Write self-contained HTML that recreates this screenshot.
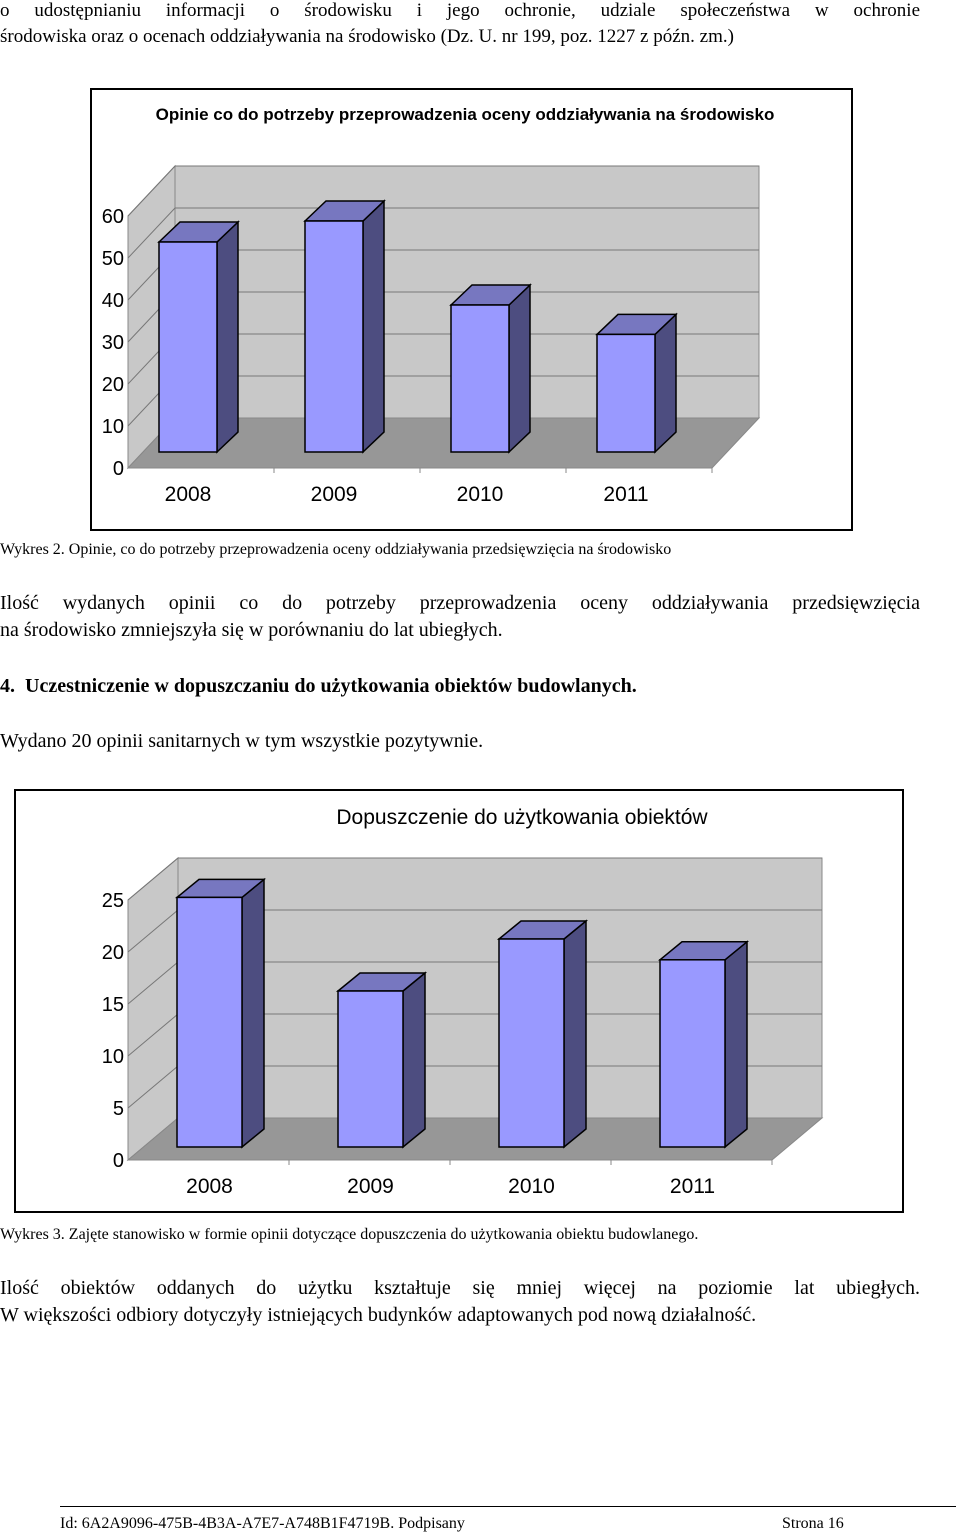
<!DOCTYPE html>
<html><head><meta charset="utf-8"><style>
body{margin:0;width:960px;height:1538px;position:relative;background:#fff;font-family:"Liberation Serif",serif;color:#000;overflow:hidden}
.t{position:absolute;white-space:nowrap}
.j{position:absolute;left:2px;width:918px;text-align:justify;text-align-last:justify;white-space:nowrap}
svg text{font-family:"Liberation Sans",sans-serif}
</style></head><body>
<div class="j" style="top:0;font-size:19px;left:0;width:920px">o udostępnianiu informacji o środowisku i jego ochronie, udziale społeczeństwa w ochronie</div>
<div class="t" style="top:26px;left:0;font-size:19px">środowiska oraz o ocenach oddziaływania na środowisko (Dz. U. nr 199, poz. 1227 z późn. zm.)</div>

<svg id="c1" style="position:absolute;left:0;top:0" width="960" height="540"></svg>
<div class="t" style="top:541px;left:0;font-size:16px">Wykres 2. Opinie, co do potrzeby przeprowadzenia oceny oddziaływania przedsięwzięcia na środowisko</div>
<div class="j" style="top:592px;font-size:20px;left:0;width:920px">Ilość wydanych opinii co do potrzeby przeprowadzenia oceny oddziaływania przedsięwzięcia</div>
<div class="t" style="top:619px;left:0;font-size:20px">na środowisko zmniejszyła się w porównaniu do lat ubiegłych.</div>
<div class="t" style="top:675px;left:0;font-size:20px;font-weight:bold">4. &nbsp;Uczestniczenie w dopuszczaniu do użytkowania obiektów budowlanych.</div>
<div class="t" style="top:730px;left:0;font-size:20px">Wydano 20 opinii sanitarnych w tym wszystkie pozytywnie.</div>

<svg id="c2" style="position:absolute;left:0;top:780px" width="960" height="440"></svg>
<div class="t" style="top:1226px;left:0;font-size:16px">Wykres 3. Zajęte stanowisko w formie opinii dotyczące dopuszczenia do użytkowania obiektu budowlanego.</div>
<div class="j" style="top:1277px;font-size:20px;left:0;width:920px">Ilość obiektów oddanych do użytku kształtuje się mniej więcej na poziomie lat ubiegłych.</div>
<div class="t" style="top:1304px;left:0;font-size:20px">W większości odbiory dotyczyły istniejących budynków adaptowanych pod nową działalność.</div>

<div style="position:absolute;left:60px;top:1506px;width:896px;border-top:1px solid #000"></div>
<div class="t" style="top:1515px;left:60px;font-size:16px">Id: 6A2A9096-475B-4B3A-A7E7-A748B1F4719B. Podpisany</div>
<div class="t" style="top:1515px;left:782px;font-size:16px">Strona 16</div>

<script>
const c1Categories=["2008","2009","2010","2011"];
const c1Values=[50,55,35,28];
const c1Ticks=[0,10,20,30,40,50,60];
const c2Categories=["2008","2009","2010","2011"];
const c2Values=[24,15,20,18];
const c2Ticks=[0,5,10,15,20,25];

const NS="http://www.w3.org/2000/svg";
function mk(svg,tag,attrs,name){const e=document.createElementNS(NS,tag);for(const k in attrs)e.setAttribute(k,attrs[k]);


svg.appendChild(e);return e;}
function draw(svg,cfg,cats,vals,ticks){
  const g=cfg;
  mk(svg,'rect',{x:g.bx,y:g.by,width:g.bw,height:g.bh,fill:'#fff',stroke:'#000','stroke-width':2},'chart-frame');
  const t=mk(svg,'text',{x:g.tx,y:g.ty,'text-anchor':'middle','font-size':g.tfs,'font-weight':g.tfw},'chart-title');t.textContent=g.title;
  const x0=g.fx0,x1=g.fx1,y0=g.fy,dx=g.dx,dy=g.dy,max=ticks[ticks.length-1];
  const ys=v=>y0-v/max*g.h;
  // back wall, left wall
  mk(svg,'polygon',{points:`${x0+dx},${ys(max)+dy} ${x1+dx},${ys(max)+dy} ${x1+dx},${y0+dy} ${x0+dx},${y0+dy}`,fill:'#c8c8c8',stroke:'#888'},'back-wall');
  mk(svg,'polygon',{points:`${x0},${ys(max)} ${x0+dx},${ys(max)+dy} ${x0+dx},${y0+dy} ${x0},${y0}`,fill:'#c8c8c8',stroke:'#888'},'side-wall');
  ticks.forEach(v=>{const y=ys(v);
    if(v>0){mk(svg,'polyline',{points:`${x0},${y} ${x0+dx},${y+dy} ${x1+dx},${y+dy}`,fill:'none',stroke:'#777','stroke-width':1},'gridline');}
    const l=mk(svg,'text',{x:x0-4,y:y+7,'text-anchor':'end','font-size':20,fill:'#000'},'y-tick-label');l.textContent=v;});
  mk(svg,'polygon',{points:`${x0},${y0} ${x0+dx},${y0+dy} ${x1+dx},${y0+dy} ${x1},${y0}`,fill:'#979797',stroke:'#888'},'floor');
  mk(svg,'line',{x1:x0,y1:y0,x2:x1,y2:y0,stroke:'#888'},'x-axis');
  const step=(x1-x0)/cats.length;
  cats.forEach((c,i)=>{
    const cx=x0+step*(i+0.5)+g.off, bx=cx-g.bwid/2, by=g.bb, top=by-vals[i]/max*g.h, d=g.bd, e=g.be;
    mk(svg,'line',{x1:x0+step*(i+1),y1:y0,x2:x0+step*(i+1),y2:y0+5,stroke:'#888'},'x-tick');
    mk(svg,'polygon',{points:`${bx+g.bwid},${by} ${bx+g.bwid+d},${by-e} ${bx+g.bwid+d},${top-e} ${bx+g.bwid},${top}`,fill:'#4d4d80',stroke:'#000','stroke-width':1.5},'bar-side-'+c);
    mk(svg,'polygon',{points:`${bx},${top} ${bx+d},${top-e} ${bx+g.bwid+d},${top-e} ${bx+g.bwid},${top}`,fill:'#7777c0',stroke:'#000','stroke-width':1.5},'bar-top-'+c);
    mk(svg,'rect',{x:bx,y:top,width:g.bwid,height:by-top,fill:'#9999ff',stroke:'#000','stroke-width':1.5},'bar-'+c);
    const l=mk(svg,'text',{x:cx,y:y0+33,'text-anchor':'middle','font-size':21},'x-tick-label');l.textContent=c;
  });
}
draw(document.getElementById('c1'),{bx:91,by:89,bw:761,bh:441,tx:465,ty:120,tfs:17,tfw:'bold',title:'Opinie co do potrzeby przeprowadzenia oceny oddziaływania na środowisko',
  fx0:128,fx1:712,fy:468,dx:47,dy:-50,h:252,off:-13,bwid:58,bb:452,bd:21,be:20},c1Categories,c1Values,c1Ticks);
draw(document.getElementById('c2'),{bx:15,by:10,bw:888,bh:422,tx:522,ty:44,tfs:21,tfw:'normal',title:'Dopuszczenie do użytkowania obiektów',
  fx0:128,fx1:772,fy:380,dx:50,dy:-42,h:260,off:1,bwid:65,bb:367,bd:22,be:18},c2Categories,c2Values,c2Ticks);
</script>
</body></html>
